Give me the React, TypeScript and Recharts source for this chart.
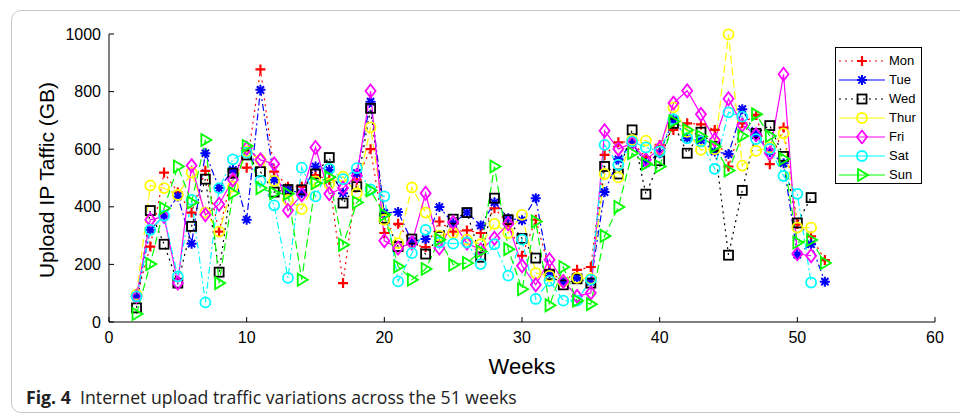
import React from "react";
import { LineChart, Line, XAxis, YAxis, Legend } from "recharts";

// weeks 2..52
const weeks = [
  2, 3, 4, 5, 6, 7, 8, 9, 10, 11, 12, 13, 14, 15, 16, 17, 18, 19, 20, 21, 22, 23, 24, 25, 26, 27,
  28, 29, 30, 31, 32, 33, 34, 35, 36, 37, 38, 39, 40, 41, 42, 43, 44, 45, 46, 47, 48, 49, 50, 51, 52,
];

const mon = [
  89, 262, 519, 450, 380, 525, 314, 522, 536, 877, 522, 470, 470, 510, 494, 135, 494, 600, 309, 341,
  270, 260, 349, 314, 318, 309, 395, 341, 230, 355, 181, 135, 181, 191, 580, 624, 627, 572, 615, 667,
  690, 686, 667, 540, 690, 719, 548, 675, 340, 297, 215,
];
const tue = [
  85, 320, 369, 436, 272, 586, 465, 528, 355, 806, 494, 459, 447, 540, 528, 447, 517, 765, 378, 382,
  280, 288, 399, 343, 380, 335, 415, 360, 353, 430, 170, 141, 153, 140, 451, 565, 620, 551, 586, 702,
  638, 630, 592, 583, 739, 650, 590, 551, 234, 270, 140,
];
const wed = [
  49, 387, 270, 135, 332, 496, 173, 517, 580, 522, 451, 460, 459, 514, 571, 413, 470, 742, 360, 262,
  288, 236, 297, 357, 380, 225, 430, 355, 290, 222, 164, 129, 150, 135, 540, 514, 667, 444, 560, 690,
  586, 659, 610, 232, 457, 655, 682, 575, 344, 432, null,
];
const thu = [
  95, 474, 465, 441, 519, 380, 314, 470, 592, 563, 490, 424, 392, 488, 480, 505, 447, 676, 355, 274,
  467, 380, 300, 309, 286, 270, 341, 309, 372, 170, 160, 140, 153, 150, 514, 502, 632, 630, 600, 745,
  660, 598, 600, 999, 543, 594, 606, 655, 328, 328, null,
];
const fri = [
  89, 355, 366, 135, 543, 372, 409, 494, 603, 563, 549, 387, 442, 606, 445, 465, 508, 802, 282, 257,
  274, 447, 257, 346, 274, 251, 291, 341, 195, 129, 216, 141, 89, 101, 664, 601, 621, 563, 603, 760,
  803, 721, 632, 775, 684, 650, 586, 860, 237, 230, null,
];
const sat = [
  89, 320, 369, 158, 424, 68, 465, 565, 588, 491, 405, 153, 536, 436, 532, 496, 534, 460, 436, 141,
  239, 320, 276, 272, 276, 201, 270, 161, 286, 80, 143, 74, 74, 147, 615, 546, 627, 606, 592, 704,
  638, 627, 532, 728, 713, 635, 601, 507, 445, 137, null,
];
const sun = [
  28, 201, 395, 540, 415, 632, 135, 447, 611, 465, 447, 445, 147, 482, 503, 268, 415, 457, 372, 193,
  147, 184, 286, 199, 205, 245, 540, 253, 114, 349, 58, 191, 74, 62, 299, 399, 586, 549, 540, 696,
  667, 644, 609, 526, 646, 721, 646, 566, 276, 285, 205,
];

const xTicks = [0, 10, 20, 30, 40, 50, 60];
const yTicks = [0, 200, 400, 600, 800, 1000];

const data = weeks.map((w, i) => ({
  week: w,
  Mon: mon[i],
  Tue: tue[i],
  Wed: wed[i],
  Thur: thu[i],
  Fri: fri[i],
  Sat: sat[i],
  Sun: sun[i],
}));

const series = [
  { key: "Mon", color: "#ff0000", dash: "2 4", legendDash: "2 4", marker: "plus" },
  { key: "Tue", color: "#0000ff", dash: "7 3 2 3", legendDash: undefined, marker: "star" },
  { key: "Wed", color: "#000000", dash: "2 4", legendDash: "2 4", marker: "square" },
  { key: "Thur", color: "#ffff00", dash: "8 4", legendDash: undefined, marker: "circle" },
  { key: "Fri", color: "#ff00ff", dash: undefined, legendDash: undefined, marker: "diamond" },
  { key: "Sat", color: "#00ffff", dash: "7 3 2 3", legendDash: undefined, marker: "circle" },
  { key: "Sun", color: "#00ff00", dash: "8 4", legendDash: undefined, marker: "tri" },
];

const FONT = "'Liberation Sans', Arial, sans-serif";

function Marker({ kind, color, x, y }: { kind: string; color: string; x: number; y: number }) {
  const sw = 1.8;
  if (kind === "plus")
    return <path d={`M${x - 5},${y}H${x + 5}M${x},${y - 5}V${y + 5}`} stroke={color} strokeWidth={2.2} fill="none" />;
  if (kind === "star")
    return (
      <path
        d={`M${x - 5},${y}H${x + 5}M${x},${y - 5}V${y + 5}M${x - 3.6},${y - 3.6}L${x + 3.6},${y + 3.6}M${x - 3.6},${y + 3.6}L${x + 3.6},${y - 3.6}`}
        stroke={color}
        strokeWidth={2}
        fill="none"
      />
    );
  if (kind === "square")
    return <rect x={x - 4.5} y={y - 4.5} width={9} height={9} stroke={color} strokeWidth={sw} fill="none" />;
  if (kind === "circle") return <circle cx={x} cy={y} r={5} stroke={color} strokeWidth={sw} fill="none" />;
  if (kind === "diamond")
    return (
      <path d={`M${x},${y - 6.5}L${x + 5},${y}L${x},${y + 6.5}L${x - 5},${y}Z`} stroke={color} strokeWidth={sw} fill="none" />
    );
  return <path d={`M${x - 4},${y - 6}L${x + 6},${y}L${x - 4},${y + 6}Z`} stroke={color} strokeWidth={sw} fill="none" />;
}

const makeDot = (kind: string, color: string) => (p: any) => {
  const k = `${kind}-${color}-${p.index}`;
  if (p.cx == null || p.cy == null || p.value == null) return <g key={k} />;
  return (
    <g key={k}>
      <Marker kind={kind} color={color} x={p.cx} y={p.cy} />
    </g>
  );
};

const renderLegend = () => (
  <div
    style={{
      border: "1px solid #000",
      background: "#fff",
      width: 87,
      height: 137,
      boxSizing: "border-box",
      paddingTop: 3,
      fontFamily: FONT,
      fontSize: 13,
    }}
  >
    {series.map((s) => (
      <div key={s.key} style={{ display: "flex", alignItems: "center", height: 19 }}>
        <svg width={52} height={14} style={{ display: "block" }}>
          <line x1={3} x2={49} y1={7} y2={7} stroke={s.color} strokeWidth={1.2} strokeDasharray={s.legendDash} />
          <Marker kind={s.marker} color={s.color} x={26} y={7} />
        </svg>
        <span style={{ marginLeft: 1 }}>{s.key}</span>
      </div>
    ))}
  </div>
);

const noTick = () => <g />;

export default function App() {
  return (
    <div style={{ position: "absolute", left: 0, top: 0, width: 960, height: 417, background: "#fff", overflow: "hidden" }}>
      <div
        style={{
          position: "absolute",
          left: 11,
          top: 10,
          width: 990,
          height: 401,
          border: "1px solid #c8c8c8",
          borderRadius: 10,
        }}
      />
      <div style={{ position: "absolute", left: 0, top: 0 }}>
        <LineChart width={960} height={417} data={data} margin={{ top: 34, right: 25, left: 0, bottom: 0 }}>
          <XAxis
            dataKey="week"
            type="number"
            domain={[0, 60]}
            ticks={xTicks}
            interval={0}
            height={95}
            tickSize={-5}
            tickMargin={15}
            stroke="#000"
            tick={{ fill: "#000", fontSize: 16, fontFamily: FONT }}
            label={{ value: "Weeks", position: "insideTop", offset: 36, fontSize: 22, fill: "#000", fontFamily: FONT }}
          />
          <XAxis
            xAxisId="top"
            orientation="top"
            type="number"
            domain={[0, 60]}
            ticks={xTicks}
            height={0}
            tickSize={-5}
            stroke="#000"
            tick={noTick}
          />
          <YAxis
            type="number"
            domain={[0, 1000]}
            ticks={yTicks}
            interval={0}
            width={109}
            tickSize={-5}
            tickMargin={13}
            stroke="#000"
            tick={{ fill: "#000", fontSize: 16, fontFamily: FONT }}
            label={{
              value: "Upload IP Taffic (GB)",
              angle: -90,
              position: "center",
              dx: -8,
              dy: 2,
              fontSize: 21,
              fill: "#000",
              fontFamily: FONT,
            }}
          />
          <YAxis
            yAxisId="right"
            orientation="right"
            type="number"
            domain={[0, 1000]}
            ticks={yTicks}
            width={0}
            tickSize={-5}
            stroke="#000"
            tick={noTick}
          />
          {series.map((s) => (
            <Line
              key={s.key}
              type="linear"
              dataKey={s.key}
              stroke={s.color}
              strokeWidth={1.2}
              strokeDasharray={s.dash}
              dot={makeDot(s.marker, s.color)}
              activeDot={false}
              isAnimationActive={false}
            />
          ))}
          <Legend
            layout="vertical"
            align="center"
            verticalAlign="middle"
            content={renderLegend}
            wrapperStyle={{ left: 835, top: 47, width: 88 }}
          />
        </LineChart>
      </div>
      <div
        style={{
          position: "absolute",
          left: 26,
          top: 385,
          fontFamily: "'Open Sans', sans-serif",
          fontSize: 17.7,
          color: "#222",
          whiteSpace: "nowrap",
        }}
      >
        <b>Fig. 4</b>&nbsp; Internet upload traffic variations across the 51 weeks
      </div>
    </div>
  );
}
